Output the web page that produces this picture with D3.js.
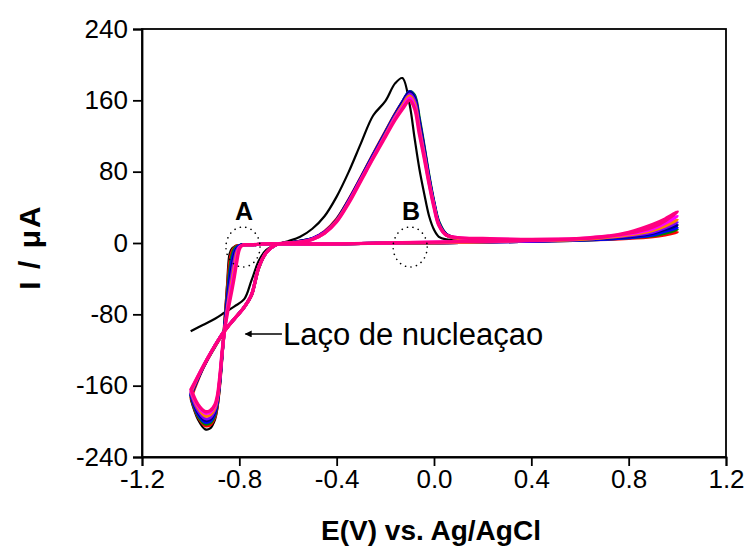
<!DOCTYPE html>
<html><head><meta charset="utf-8">
<script src="https://cdn.jsdelivr.net/npm/d3@7"></script>
<style>body{margin:0;background:#fff}svg{display:block}</style>
</head><body><svg id="c" width="747" height="546"></svg>
<script>
// ---- data ----
const xTicks = [-1.2, -0.8, -0.4, 0.0, 0.4, 0.8, 1.2];
const yTicks = [240, 160, 80, 0, -80, -160, -240];

// potential program: positive-going sweep, then negative-going sweep (V)
const eUp = [-1.0,-0.95,-0.9,-0.86,-0.82,-0.78,-0.75,-0.72,-0.69,-0.65,-0.6,-0.55,-0.5,-0.45,-0.4,-0.35,-0.3,-0.25,-0.2,-0.16,-0.13,-0.1,-0.08,-0.06,-0.04,-0.02,0.0,0.02,0.05,0.1,0.2,0.4,0.6,0.7,0.8,0.9,0.95,1.0];
const eDown = [0.95,0.9,0.8,0.6,0.4,0.2,0.0,-0.2,-0.4,-0.6,-0.7,-0.75,-0.78,-0.79,-0.8,-0.81,-0.82,-0.83,-0.84,-0.85,-0.86,-0.87,-0.88,-0.89,-0.9,-0.92,-0.94,-0.97,-1.0];

const cycleNames = ["c1","c2","c3","c4","c5","c6","c7","c8","c9"];
const cycleColors = ["#000000","#FF0000","#008000","#0000FF","#000080","#8000FF","#FF8000","#FF00FF","#FF0080"];

// current (µA) on eUp for each cycle
const iUp1 = [-99,-92,-85,-78,-71,-63,-42,-20,-8,-2,2,7,16,30,52,80,112,143,159,179,185,155,118,83,55,30,15,7,4,3,3,3,4,6,9,13,16,19];
const iUp2 = [-175,-141,-116,-99,-85,-72,-59,-28,-11,-2,0,2,5,13,27,49,74,100,125,145,158,169,163,135,104,72,44,22,9,5,4,3,4,5,7,10,11,12];
const iUp3 = [-172,-140,-116,-98,-85,-72,-58,-28,-11,-2,0,2,5,12,26,48,73,99,124,144,158,170,166,140,108,75,46,24,10,5,4,3,4,6,8,12,13,15];
const iUp4 = [-171,-140,-115,-98,-85,-72,-58,-27,-11,-2,0,2,5,12,26,48,73,99,124,144,158,170,164,137,106,73,45,23,10,5,4,3,4,6,9,13,15,17];
const iUp5 = [-170,-140,-115,-98,-85,-72,-58,-27,-11,-2,0,2,5,12,26,48,73,98,123,143,157,169,163,136,105,72,44,22,10,5,4,3,4,6,9,14,17,20];
const iUp6 = [-169,-139,-115,-98,-85,-72,-58,-27,-11,-2,0,1,5,12,25,47,72,97,122,142,155,167,160,131,101,70,43,21,9,5,4,3,4,6,10,16,19,23];
const iUp7 = [-168,-139,-115,-98,-85,-72,-58,-27,-11,-2,0,1,4,11,25,46,71,96,121,141,154,165,157,128,99,68,42,21,9,5,4,3,4,6,10,17,21,26];
const iUp8 = [-166,-139,-115,-98,-85,-72,-58,-27,-11,-2,0,1,4,11,24,46,71,96,120,140,152,163,154,125,97,67,41,20,9,6,5,4,5,7,11,19,24,30];
const iUp9 = [-165,-139,-115,-98,-85,-72,-58,-27,-11,-2,0,1,4,11,24,45,70,95,119,138,150,160,151,122,95,66,40,20,9,6,5,4,5,7,12,21,27,35];

// current (µA) on eDown for each cycle
const iDown1 = [14,10,7,3,2,1,0,0,-1,-1,-1,-2,-2,-2,-3,-3,-4,-6,-12,-45,-85,-125,-160,-185,-198,-208,-209,-198,-175];
const iDown2 = [9,7,5,3,2,1,0,0,-1,-1,-1,-2,-2,-2,-3,-3,-5,-9,-22,-52,-88,-124,-158,-182,-195,-204,-205,-195,-172];
const iDown3 = [11,8,6,3,2,1,0,0,-1,-1,-1,-2,-2,-2,-3,-4,-6,-13,-30,-58,-90,-123,-156,-180,-193,-202,-203,-194,-171];
const iDown4 = [13,9,6,3,2,1,0,0,-1,-1,-1,-2,-2,-2,-3,-5,-9,-19,-38,-63,-92,-123,-155,-178,-191,-200,-201,-192,-170];
const iDown5 = [15,11,7,4,2,1,0,0,-1,-1,-1,-2,-2,-2,-4,-6,-13,-26,-45,-68,-94,-122,-153,-176,-189,-198,-199,-190,-169];
const iDown6 = [17,12,8,4,2,1,0,0,-1,-1,-1,-2,-2,-3,-4,-8,-18,-33,-51,-72,-96,-122,-152,-175,-187,-196,-197,-188,-168];
const iDown7 = [19,14,9,4,3,1,0,0,-1,-1,-1,-2,-2,-3,-5,-11,-25,-41,-57,-75,-97,-121,-151,-174,-185,-193,-194,-185,-166];
const iDown8 = [22,16,10,5,3,2,1,0,-1,-1,-1,-2,-2,-3,-5,-15,-31,-46,-61,-77,-97,-120,-150,-173,-183,-190,-191,-183,-165];
const iDown9 = [25,18,11,5,3,2,1,0,-1,-1,-1,-2,-2,-3,-7,-20,-37,-52,-66,-80,-97,-120,-149,-171,-181,-188,-189,-181,-163];

// annotations (data coordinates)
const ellipseLabels = ["A", "B"];
const ellipseCenters = [[-0.785, -4.5], [-0.098, -4.5]];
const arrowFrom = [-0.625, -102];
const arrowTo = [-0.775, -102];
const noteText = "Laço de nucleaçao";

// ---- drawing ----
const iUps = [iUp1,iUp2,iUp3,iUp4,iUp5,iUp6,iUp7,iUp8,iUp9];
const iDowns = [iDown1,iDown2,iDown3,iDown4,iDown5,iDown6,iDown7,iDown8,iDown9];
const series = cycleNames.map((n, k) => ({
  name: n, color: cycleColors[k],
  pts: eUp.map((e, j) => [e, iUps[k][j]]).concat(eDown.map((e, j) => [e, iDowns[k][j]]))
}));

const L = 142, R = 726, T = 29, B = 457;
const FONT = "'Liberation Sans', Arial, Helvetica, sans-serif";
const svg = d3.select("#c");
svg.append("rect").attr("width", 747).attr("height", 546).attr("fill", "#fff");

const x = d3.scaleLinear().domain([-1.2, 1.2]).range([L, R]);
const y = d3.scaleLinear().domain([-240, 240]).range([B, T]);

const line = d3.line().x(d => x(d[0])).y(d => y(d[1])).curve(d3.curveCatmullRom.alpha(0.5));
svg.append("g").selectAll("path").data(series).join("path")
  .attr("d", d => line(d.pts))
  .attr("fill", "none")
  .attr("stroke", d => d.color)
  .attr("stroke-width", (d, i) => i === 0 ? 2.2 : (i === series.length - 1 ? 3.4 : 3))
  .attr("stroke-linejoin", "round");

// frame
svg.append("rect").attr("x", L).attr("y", T).attr("width", R - L).attr("height", B - T)
  .attr("fill", "none").attr("stroke", "#000").attr("stroke-width", 1.8);

const xAxis = svg.append("g").attr("transform", `translate(0,${B})`)
  .call(d3.axisBottom(x).tickValues(xTicks).tickSize(9).tickPadding(4).tickFormat(d => d.toFixed(1)));
const yAxis = svg.append("g").attr("transform", `translate(${L},0)`)
  .call(d3.axisLeft(y).tickValues(yTicks).tickSize(9).tickPadding(5).tickFormat(d => String(d)));
[xAxis, yAxis].forEach(g => {
  g.select(".domain").attr("stroke-width", 1.8);
  g.selectAll(".tick line").attr("stroke-width", 1.8);
  g.selectAll("text").attr("font-family", FONT).attr("font-size", 26).attr("fill", "#000");
});

// axis titles
svg.append("text").attr("x", (L + R) / 2 - 3).attr("y", 540).attr("text-anchor", "middle")
  .attr("font-family", FONT).attr("font-size", 28).attr("font-weight", "bold").text("E(V) vs. Ag/AgCl");
svg.append("text").attr("transform", `translate(40,${(T + B) / 2 + 4}) rotate(-90)`).attr("text-anchor", "middle")
  .attr("font-family", FONT).attr("font-size", 30).attr("font-weight", "bold")
  .attr("letter-spacing", 2).text("I / μA");

// dotted ellipses + labels
const rxV = 0.07, ryI = 22.4;
ellipseCenters.forEach((c, k) => {
  svg.append("ellipse").attr("cx", x(c[0])).attr("cy", y(c[1]))
    .attr("rx", x(c[0] + rxV) - x(c[0])).attr("ry", y(c[1] - ryI) - y(c[1]))
    .attr("fill", "none").attr("stroke", "#000").attr("stroke-width", 1.6)
    .attr("stroke-dasharray", "0.1,5.5").attr("stroke-linecap", "round");
  svg.append("text").attr("x", x(c[0]) + 1).attr("y", y(c[1]) - 27)
    .attr("text-anchor", "middle").attr("font-family", FONT).attr("font-size", 25)
    .attr("font-weight", "bold").text(ellipseLabels[k]);
});

// arrow + note
svg.append("defs").append("marker").attr("id", "ah").attr("viewBox", "0 0 10 10")
  .attr("refX", 9).attr("refY", 5).attr("markerWidth", 10).attr("markerHeight", 7)
  .attr("markerUnits", "userSpaceOnUse").attr("orient", "auto")
  .append("path").attr("d", "M0,0 L10,5 L0,10 Z").attr("fill", "#000");
svg.append("line").attr("x1", x(arrowFrom[0])).attr("y1", y(arrowFrom[1]))
  .attr("x2", x(arrowTo[0])).attr("y2", y(arrowTo[1]))
  .attr("stroke", "#000").attr("stroke-width", 1.5).attr("marker-end", "url(#ah)");
svg.append("text").attr("x", x(arrowFrom[0]) + 1).attr("y", y(arrowFrom[1]) + 11)
  .attr("font-family", FONT).attr("font-size", 31).text(noteText);
</script></body></html>
